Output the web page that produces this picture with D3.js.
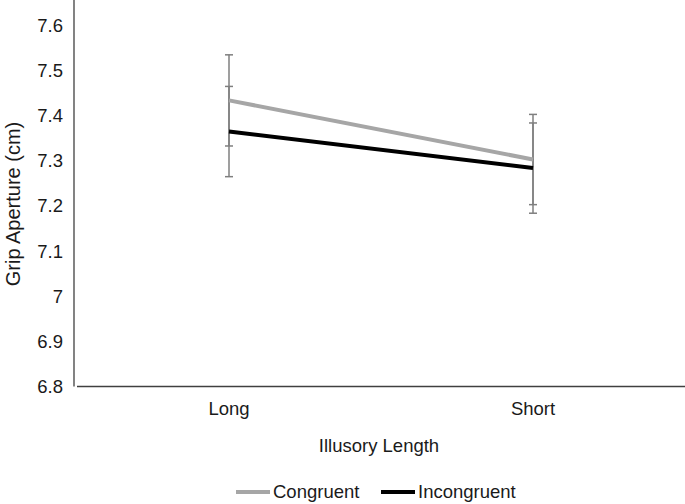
<!DOCTYPE html>
<html>
<head>
<meta charset="utf-8">
<script src="https://cdn.jsdelivr.net/npm/d3@7"></script>
<style>
    body { margin: 0; background: #fff; }
    svg { display: block; font-family: "Liberation Sans", Arial, sans-serif; }
    text { fill: #1a1a1a; }
</style>
</head>
<body>
<svg width="685" height="504"></svg>
<script>
// Chart data
var categories = ["Long", "Short"];
var seriesNames = ["Congruent", "Incongruent"];
var congruentValues = [7.434, 7.303];
var incongruentValues = [7.365, 7.284];
var congruentErrors = [0.101, 0.100];
var incongruentErrors = [0.100, 0.100];
var yTicks = [6.8, 6.9, 7, 7.1, 7.2, 7.3, 7.4, 7.5, 7.6];

var seriesColors = ["#a6a6a6", "#000000"];

var svg = d3.select("svg");

var xScale = d3.scalePoint().domain(categories).range([77, 685]).padding(0.5);
var yScale = d3.scaleLinear().domain([6.8, 7.6]).range([386.5, 25.5]);

// Y axis line
svg.append("line")
    .attr("x1", 74)
    .attr("x2", 74)
    .attr("y1", 0)
    .attr("y2", yScale(6.8))
    .style("stroke", "#404040")
    .style("stroke-width", 1.3);

// X axis line
svg.append("line")
    .attr("x1", 77)
    .attr("x2", 685)
    .attr("y1", yScale(6.8))
    .attr("y2", yScale(6.8))
    .style("stroke", "#404040")
    .style("stroke-width", 1.6);

// Y tick labels
svg.selectAll("text.ytick")
    .data(yTicks)
    .enter()
    .append("text")
    .attr("class", "ytick")
    .attr("x", 63)
    .attr("y", d => yScale(d))
    .attr("dy", "0.35em")
    .attr("text-anchor", "end")
    .style("font-size", "18.5px")
    .text(d => d);

// X tick labels
svg.selectAll("text.xtick")
    .data(categories)
    .enter()
    .append("text")
    .attr("class", "xtick")
    .attr("x", d => xScale(d))
    .attr("y", 415)
    .attr("text-anchor", "middle")
    .style("font-size", "18.5px")
    .text(d => d);

// Axis titles
svg.append("text")
    .attr("x", 379)
    .attr("y", 452)
    .attr("text-anchor", "middle")
    .style("font-size", "18.5px")
    .text("Illusory Length");

svg.append("text")
    .attr("transform", "translate(20,204) rotate(-90)")
    .attr("text-anchor", "middle")
    .style("font-size", "20px")
    .text("Grip Aperture (cm)");

var series = [
    { name: seriesNames[0], values: congruentValues, errors: congruentErrors, color: seriesColors[0] },
    { name: seriesNames[1], values: incongruentValues, errors: incongruentErrors, color: seriesColors[1] },
];

var line = d3.line()
    .x((d, i) => xScale(categories[i]))
    .y(d => yScale(d));

// Error bars
series.forEach(s => {
    var g = svg.append("g");
    s.values.forEach((v, i) => {
        var x = xScale(categories[i]);
        var top = yScale(v + s.errors[i]);
        var bottom = yScale(v - s.errors[i]);
        g.append("line")
            .attr("x1", x).attr("x2", x)
            .attr("y1", top).attr("y2", bottom)
            .style("stroke", "#7f7f7f")
            .style("stroke-width", 1.5);
        [top, bottom].forEach(y => {
            g.append("line")
                .attr("x1", x - 4).attr("x2", x + 4)
                .attr("y1", y).attr("y2", y)
                .style("stroke", "#7f7f7f")
                .style("stroke-width", 1.5);
        });
    });
});

// Series lines
series.forEach(s => {
    svg.append("path")
        .attr("d", line(s.values))
        .attr("fill", "none")
        .attr("stroke", s.color)
        .attr("stroke-width", 4);
});

// Legend
var legendX = [236, 381];
series.forEach((s, i) => {
    svg.append("line")
        .attr("x1", legendX[i])
        .attr("x2", legendX[i] + 34)
        .attr("y1", 492)
        .attr("y2", 492)
        .style("stroke", s.color)
        .style("stroke-width", 4);
    svg.append("text")
        .attr("x", legendX[i] + 37)
        .attr("y", 498)
        .style("font-size", "18.5px")
        .text(s.name);
});
</script>
</body>
</html>
